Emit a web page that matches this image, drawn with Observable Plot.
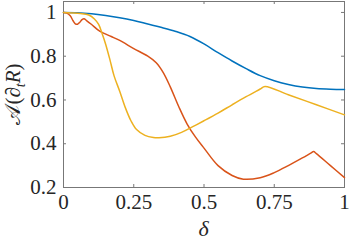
<!DOCTYPE html>
<html>
<head>
<meta charset="utf-8">
<script src="https://cdn.jsdelivr.net/npm/d3@7"></script>
<script src="https://cdn.jsdelivr.net/npm/@observablehq/plot@0.6"></script>
<style>
  body { margin: 0; background: #fff; }
  #chart svg { display: block; }
  #chart svg text { font-family: "Liberation Serif", "Times New Roman", serif !important; }
</style>
</head>
<body>
<div id="chart"></div>
<script>
// ---- data ----
const blueX = [0,0.05,0.1,0.15,0.2,0.25,0.3,0.35,0.4,0.45,0.5,0.55,0.6,0.65,0.7,0.75,0.8,0.85,0.9,0.95,1];
const blueY = [1.0,0.999,0.994,0.986,0.976,0.963,0.947,0.931,0.913,0.89,0.856,0.816,0.778,0.743,0.711,0.688,0.671,0.659,0.652,0.649,0.648];

const redX = [0,0.012,0.024,0.034,0.042,0.05,0.058,0.066,0.073,0.082,0.1,0.13,0.17,0.2,0.25,0.3,0.33,0.355,0.38,0.41,0.44,0.47,0.5,0.55,0.6,0.64,0.7,0.75,0.8,0.85,0.88,0.89,0.9,0.95,1];
const redY = [1.0,0.997,0.985,0.962,0.948,0.946,0.955,0.967,0.971,0.963,0.945,0.913,0.89,0.872,0.835,0.80,0.77,0.725,0.66,0.57,0.49,0.43,0.38,0.30,0.255,0.238,0.245,0.268,0.30,0.335,0.357,0.364,0.355,0.30,0.245];

const yellowX = [0,0.03,0.06,0.09,0.11,0.125,0.137,0.15,0.166,0.18,0.2,0.22,0.24,0.26,0.29,0.32,0.34,0.38,0.42,0.46,0.5,0.55,0.6,0.65,0.7,0.717,0.8,0.9,1];
const yellowY = [1.0,0.998,0.995,0.988,0.97,0.945,0.905,0.855,0.78,0.71,0.64,0.565,0.505,0.465,0.438,0.428,0.427,0.434,0.452,0.478,0.505,0.54,0.578,0.615,0.65,0.662,0.624,0.578,0.532];

const xTicks = [0, 0.25, 0.5, 0.75, 1];
const xTickLabels = ["0", "0.25", "0.5", "0.75", "1"];
const yTicks = [0.2, 0.4, 0.6, 0.8, 1];
const yTickLabels = ["0.2", "0.4", "0.6", "0.8", "1"];

const seriesNames = ["series 1", "series 2", "series 3"];
const seriesColors = ["#0072BD", "#D95319", "#EDB120"];

// ---- build ----
const toRows = (xs, ys, s) => xs.map((x, i) => ({x, y: ys[i], s}));
const rows = [
  ...toRows(blueX, blueY, seriesNames[0]),
  ...toRows(redX, redY, seriesNames[1]),
  ...toRows(yellowX, yellowY, seriesNames[2])
];

const W = 349, H = 242;
const mL = 63, mR = 5, mT = 1, mB = 55;
const plotW = W - mL - mR, plotH = H - mT - mB;
const tick = 3;
const font = "Liberation Serif, Times New Roman, serif";
const axisColor = "#777";

const plot = Plot.plot({
  width: W, height: H,
  marginLeft: mL, marginRight: mR, marginTop: mT, marginBottom: mB,
  style: {fontFamily: font, fontSize: "21px", color: "#262626", background: "#fff"},
  x: {domain: [0, 1]},
  y: {domain: [0.2, 1.05]},
  color: {type: "categorical", domain: seriesNames, range: seriesColors},
  marks: [
    Plot.frame({stroke: axisColor, strokeWidth: 1}),
    Plot.tickX(xTicks, {x: d => d, stroke: axisColor, insetTop: plotH - tick}),
    Plot.tickX(xTicks, {x: d => d, stroke: axisColor, insetBottom: plotH - tick}),
    Plot.tickY(yTicks, {y: d => d, stroke: axisColor, insetRight: plotW - tick}),
    Plot.tickY(yTicks, {y: d => d, stroke: axisColor, insetLeft: plotW - tick}),
    Plot.axisX(xTicks, {tickSize: 0, tickPadding: 7, tickFormat: (d, i) => xTickLabels[i], label: null}),
    Plot.axisY(yTicks, {tickSize: 0, tickPadding: 7, tickFormat: (d, i) => yTickLabels[i], label: null}),
    Plot.line(rows, {x: "x", y: "y", z: "s", stroke: "s", strokeWidth: 1.5, curve: "catmull-rom"})
  ]
});

const svg = d3.select(plot);
svg.append("text")
  .attr("x", mL + plotW / 2)
  .attr("y", 236)
  .attr("text-anchor", "middle")
  .attr("font-size", 22)
  .attr("font-style", "italic")
  .attr("fill", "#262626")
  .text("δ");
const yl = svg.append("text")
  .attr("transform", `translate(20, ${mT + plotH / 2}) rotate(-90)`)
  .attr("text-anchor", "middle")
  .attr("font-size", 21)
  .attr("fill", "#262626");
yl.append("tspan").text("𝒜(∂");
yl.append("tspan").attr("font-style", "italic").attr("font-size", 14).attr("dy", 5).text("t");
yl.append("tspan").attr("font-style", "italic").attr("dy", -5).text("R");
yl.append("tspan").text(")");

document.getElementById("chart").appendChild(plot);
</script>
</body>
</html>
